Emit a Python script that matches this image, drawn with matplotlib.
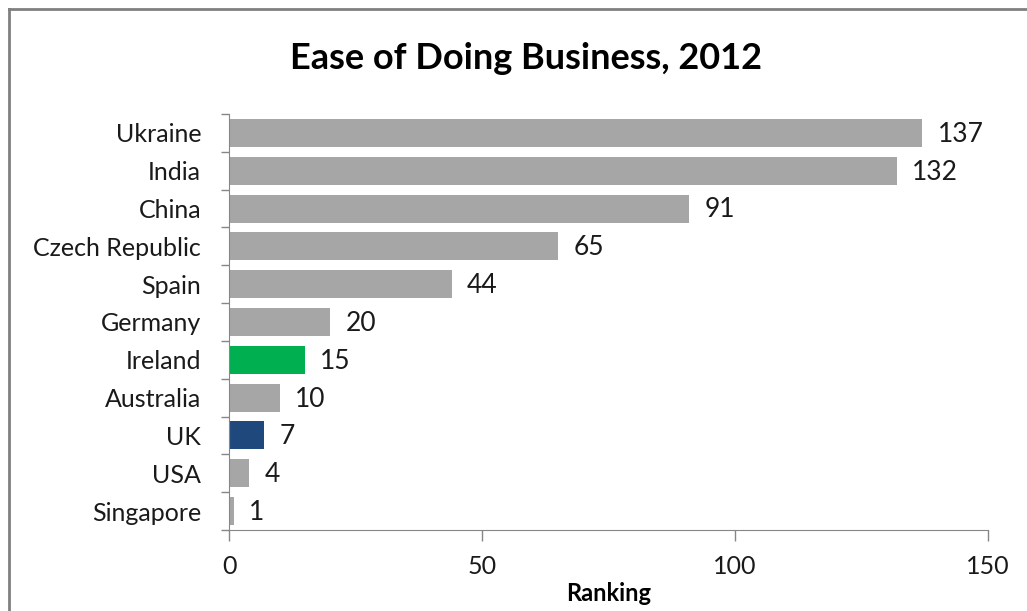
import matplotlib.pyplot as plt
from matplotlib.lines import Line2D
import numpy as np

# Ease of doing business rankings, 2012 (lower is better)
countries = ['Ukraine', 'India', 'China', 'Czech Republic', 'Spain', 'Germany',
             'Ireland', 'Australia', 'UK', 'USA', 'Singapore']
ranks = [137, 132, 91, 65, 44, 20, 15, 10, 7, 4, 1]
highlight = {'Ireland': '#00b050', 'UK': '#1f497d'}

plt.rcParams['font.family'] = ['Lato', 'DejaVu Sans']

fig = plt.figure(figsize=(10.27, 6.11), dpi=100)
ax = fig.add_axes([0.223, 0.1326, 0.739, 0.6808])

y = np.arange(len(countries))[::-1]
colors = [highlight.get(c, '#a6a6a6') for c in countries]
ax.barh(y, ranks, height=0.74, color=colors)

for yi, r in zip(y, ranks):
    ax.annotate(str(r), (r, yi), xytext=(11, -1), textcoords='offset points',
                va='center', ha='left', fontsize=19, color='#1a1a1a')

ax.set_xlim(0, 150)
ax.set_ylim(-0.5, len(countries) - 0.5)
ax.set_xticks([0, 50, 100, 150])
ax.set_yticks(y)
ax.set_yticklabels(countries)
ax.set_yticks(np.arange(len(countries) + 1) - 0.5, minor=True)

ax.tick_params(axis='y', which='major', length=0, pad=20, labelsize=18, labelcolor='#1a1a1a')
ax.tick_params(axis='y', which='minor', length=6, direction='out', color='#868686', width=1)
ax.tick_params(axis='x', length=8, direction='out', color='#868686', width=1,
               pad=10, labelsize=18, labelcolor='#1a1a1a')

for side in ['top', 'right']:
    ax.spines[side].set_visible(False)
for side in ['left', 'bottom']:
    ax.spines[side].set_color('#868686')

ax.set_xlabel('Ranking', fontsize=17, fontweight='bold', labelpad=3)
fig.text(0.512, 0.905, 'Ease of Doing Business, 2012', ha='center', va='center',
         fontsize=26, fontweight='bold')

# frame on the left and top edges
fig.add_artist(Line2D([9 / 1027, 9 / 1027], [0, 1 - 9 / 611], color='#808080', lw=2))
fig.add_artist(Line2D([9 / 1027, 1], [1 - 9 / 611, 1 - 9 / 611], color='#808080', lw=2))

fig.savefig('out.png', dpi=100)
